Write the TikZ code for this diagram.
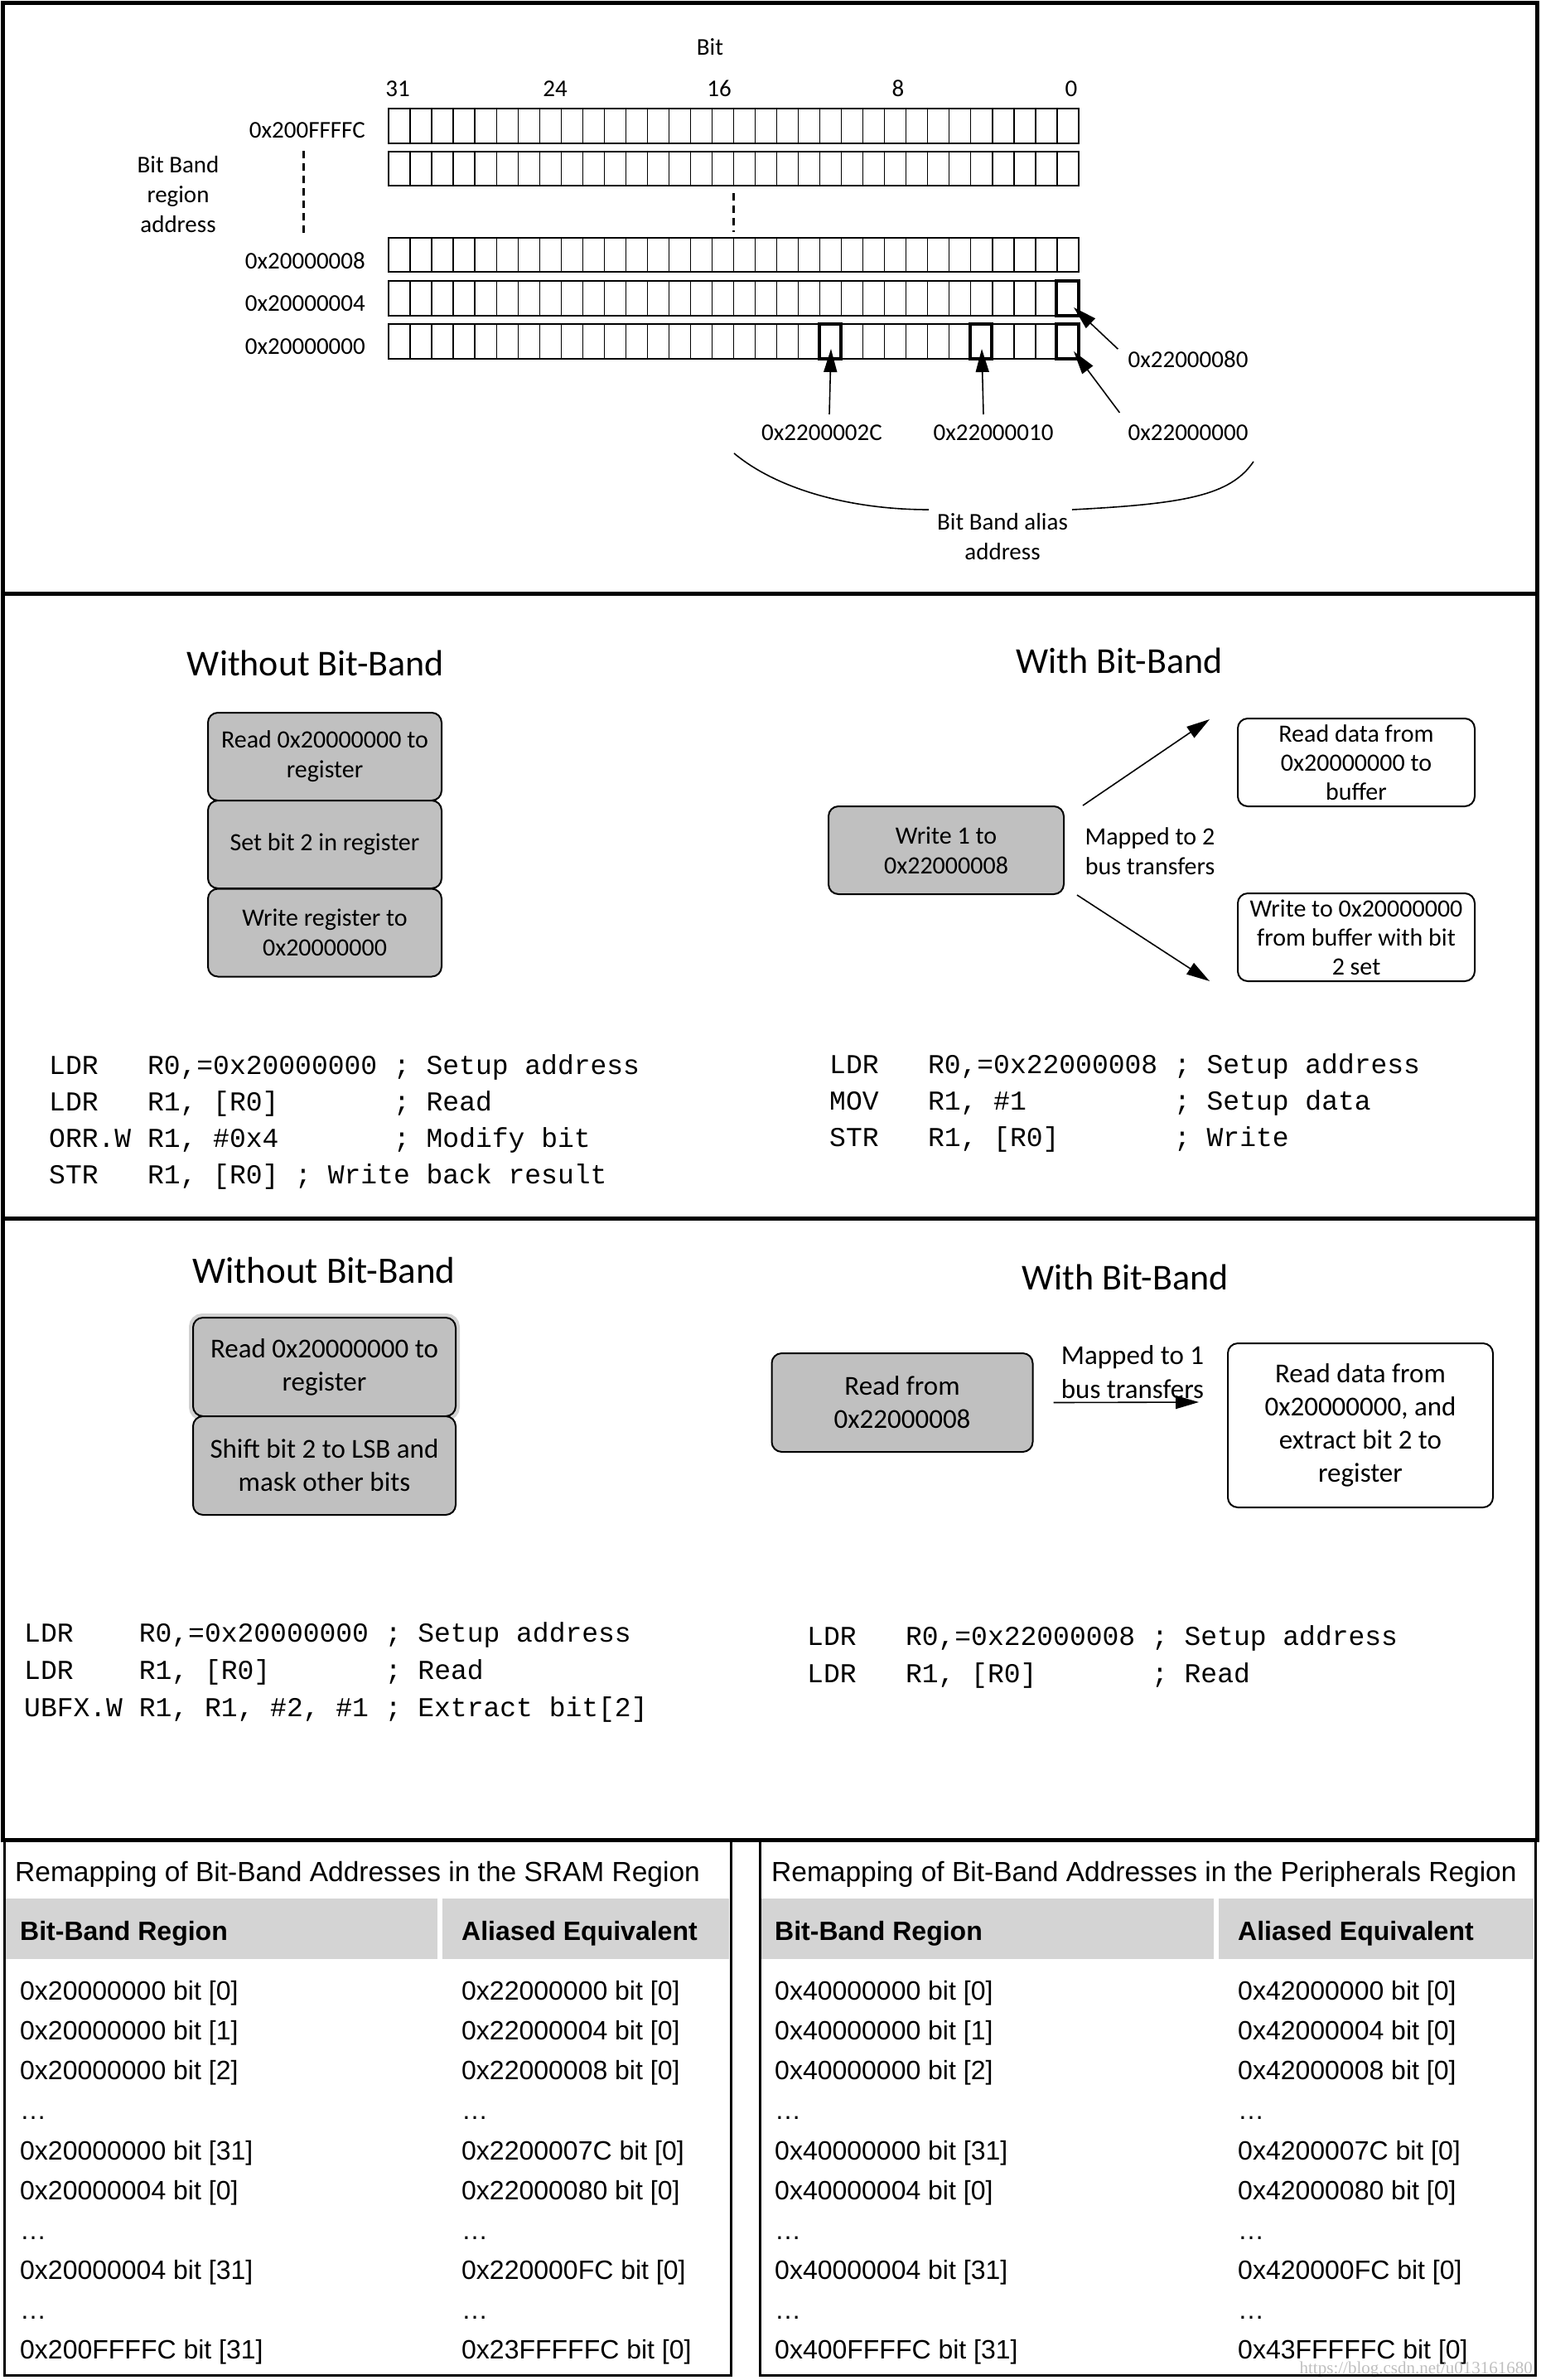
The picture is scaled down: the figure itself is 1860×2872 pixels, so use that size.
\documentclass[tikz,border=0pt]{standalone}
\usepackage{fontspec}
\setmainfont{Carlito}
\newfontfamily\codefont{Liberation Mono}
\newfontfamily\tabfont{Liberation Sans}
\newfontfamily\wmfont{Liberation Serif}
\usetikzlibrary{arrows.meta}
\definecolor{boxgray}{RGB}{192,192,192}
\definecolor{headgray}{RGB}{212,212,212}
\begin{document}
\begin{tikzpicture}[x=1pt,y=-1pt,
  lbl/.style={font=\fontsize{29}{36}\selectfont, inner sep=0pt, align=center},
  ttl/.style={font=\fontsize{44}{50}\selectfont, inner sep=0pt},
  ttlb/.style={font=\fontsize{45}{50}\selectfont, inner sep=0pt},
  gbox/.style={draw, line width=2pt, rounded corners=12pt, fill=boxgray, align=center, inner sep=0pt},
  wbox/.style={draw, line width=2pt, rounded corners=12pt, fill=white, align=center, inner sep=0pt},
  bt2/.style={font=\fontsize{30}{36}\selectfont},
  bt3/.style={font=\fontsize{33}{40}\selectfont},
  code/.style={font=\codefont\fontsize{33}{44}\selectfont, inner sep=0pt, anchor=base west},
  tab/.style={font=\tabfont\fontsize{32}{40}\selectfont, inner sep=0pt, anchor=base west},
  tabt/.style={font=\tabfont\fontsize{33.5}{40}\selectfont, inner sep=0pt, anchor=base west},
  tabh/.style={font=\tabfont\bfseries\fontsize{32}{40}\selectfont, inner sep=0pt, anchor=base west},
  arr/.style={line width=1.6pt, -{Triangle[length=28pt,width=16pt]}},
  frame/.style={line width=5pt},
  reg/.style={line width=2.5pt},
  cell/.style={line width=1.3pt},
  hl/.style={line width=4.5pt},
]
\useasboundingbox (0,0) rectangle (1860,2872);

% ================= Panel 1 =================
\node[lbl] (bit) at (857,57) {Bit};
\foreach \n/\x in {31/480,24/670,16/868,8/1084,0/1293}
  \node[lbl, anchor=base] (b\n) at (\x,116) {\n};
\foreach \t/\b in {131/173,183/224,287/328,339/381,391/433}{
  \draw[reg] (469,\t) rectangle (1302,\b);
  \foreach \i in {1,...,31}
    \draw[cell] ({469+\i*26.03},\t) -- ({469+\i*26.03},\b);
}
\node[lbl, anchor=base east] (a1) at (441,166) {0x200FFFFC};
\node[lbl, anchor=base east] (a2) at (441,324) {0x20000008};
\node[lbl, anchor=base east] (a3) at (441,375) {0x20000004};
\node[lbl, anchor=base east] (a4) at (441,427) {0x20000000};
\node[lbl] (bbr) at (215,235) {Bit Band\\region\\address};
\draw[line width=3pt, dash pattern=on 9pt off 6pt] (366,182) -- (366,281);
\draw[line width=3pt, dash pattern=on 9pt off 6pt] (885,233) -- (885,280);
% highlighted bits
\draw[hl] (1275,339) rectangle (1302,381);
\draw[hl] (1275,391) rectangle (1302,433);
\draw[hl] (1171,391) rectangle (1197,433);
\draw[hl] (989,391) rectangle (1015,433);
\coordinate (t80) at (1296,371);
\coordinate (t00) at (1296,424);
\coordinate (t10) at (1185,421);
\coordinate (t2c) at (1003,421);
\node[lbl, anchor=base] (l80) at (1434,443) {0x22000080};
\node[lbl, anchor=base] (l2c) at (992,531) {0x2200002C};
\node[lbl, anchor=base] (l10) at (1199,531) {0x22000010};
\node[lbl, anchor=base] (l00) at (1434,531) {0x22000000};
\draw[arr] ([xshift=9pt,yshift=12pt]l2c.north) -- (t2c);
\draw[arr] ([xshift=-12pt,yshift=12pt]l10.north) -- (t10);
\draw[arr] ([xshift=-10pt,yshift=14pt]l00.north west) -- (t00);
\draw[arr] ([xshift=-12pt,yshift=12pt]l80.west) -- (t80);
\node[lbl] (alias) at (1210,648) {Bit Band alias\\address};
\coordinate (bl0) at (886,547);
\coordinate (bl1) at (1121,615);
\coordinate (br0) at (1294,615);
\coordinate (br1) at (1513,557);
\draw[line width=1.6pt] (bl0) .. controls (940,592) and (1030,615) .. (bl1);
\draw[line width=1.6pt] (br0) .. controls (1430,608) and (1485,598) .. (br1);

% ================= Panel 2 =================
\node[ttl] (t2l) at (381,800) {Without Bit-Band};
\node[ttl] (t2r) at (1351,797) {With Bit-Band};
\node[gbox, bt2, minimum width=282pt, minimum height=106pt] (s1) at (392,913) {Read 0x20000000 to\\register};
\node[gbox, bt2, minimum width=282pt, minimum height=106pt] (s2) at (392,1019) {Set bit 2 in register};
\node[gbox, bt2, minimum width=282pt, minimum height=106pt] (s3) at (392,1125.5) {Write register to\\0x20000000};
\node[gbox, bt2, minimum width=284pt, minimum height=106pt] (w1) at (1142,1026) {Write 1 to\\0x22000008};
\node[lbl, font=\fontsize{30}{36}\selectfont] (map2) at (1388,1027) {Mapped to 2\\bus transfers};
\node[wbox, font=\fontsize{30}{35}\selectfont, minimum width=286pt, minimum height=106pt] (rd) at (1637,920) {Read data from\\0x20000000 to\\buffer};
\node[wbox, font=\fontsize{30}{35}\selectfont, minimum width=286pt, minimum height=106pt] (wr) at (1637,1131) {Write to 0x20000000\\from buffer with bit\\2 set};
\coordinate (e1) at (1460,868);
\coordinate (e2) at (1460,1184);
\draw[arr] ([xshift=22pt]w1.north east) -- (e1);
\draw[arr] ([xshift=15pt]w1.south east) -- (e2);
\node[code] (c21) at (59,1296) {LDR~~~R0,=0x20000000~;~Setup~address};
\node[code] (c22) at (59,1340) {LDR~~~R1,~[R0]~~~~~~~;~Read};
\node[code] (c23) at (59,1384) {ORR.W~R1,~\#0x4~~~~~~~;~Modify~bit};
\node[code] (c24) at (59,1428) {STR~~~R1,~[R0]~;~Write~back~result};
\node[code] (d21) at (1001,1295) {LDR~~~R0,=0x22000008~;~Setup~address};
\node[code] (d22) at (1001,1339) {MOV~~~R1,~\#1~~~~~~~~~;~Setup~data};
\node[code] (d23) at (1001,1383) {STR~~~R1,~[R0]~~~~~~~;~Write};

% ================= Panel 3 =================
\node[ttlb] (t3l) at (391,1533) {Without Bit-Band};
\node[ttl] (t3r) at (1358,1541) {With Bit-Band};
\draw[gray!35, line width=6pt, rounded corners=13pt] (231,1588) rectangle (552,1711);
\node[gbox, bt3, minimum width=317pt, minimum height=119pt] (u1) at (391.5,1649.5) {Read 0x20000000 to\\register};
\node[gbox, bt3, minimum width=317pt, minimum height=119pt] (u2) at (391.5,1768.5) {Shift bit 2 to LSB and\\mask other bits};
\node[gbox, bt3, minimum width=315pt, minimum height=119pt] (rf) at (1089,1692.5) {Read from\\0x22000008};
\node[lbl, font=\fontsize{33}{41}\selectfont] (map1) at (1367,1656) {Mapped to 1\\bus transfers};
\node[wbox, bt3, minimum width=320pt, minimum height=198pt] (rdx) at (1642,1720) {Read data from\\0x20000000, and\\extract bit 2 to\\register};
\coordinate (e3) at (1447,1692);
\draw[arr] ([xshift=24pt]rf.east) -- (e3);
\node[code] (c31) at (29,1981) {LDR~~~~R0,=0x20000000~;~Setup~address};
\node[code] (c32) at (29,2026) {LDR~~~~R1,~[R0]~~~~~~~;~Read};
\node[code] (c33) at (29,2071) {UBFX.W~R1,~R1,~\#2,~\#1~;~Extract~bit[2]};
\node[code] (d31) at (974,1985) {LDR~~~R0,=0x22000008~;~Setup~address};
\node[code] (d32) at (974,2030) {LDR~~~R1,~[R0]~~~~~~~;~Read};

% ================= Tables =================
\fill[headgray] (7,2291) rectangle (528,2364);
\fill[headgray] (534,2291) rectangle (880,2364);
\fill[headgray] (919,2291) rectangle (1465,2364);
\fill[headgray] (1471,2291) rectangle (1851,2364);
\node[tabt] (ttl1) at (18,2270) {Remapping of Bit-Band Addresses in the SRAM Region};
\node[tabt] (ttl2) at (931,2270) {Remapping of Bit-Band Addresses in the Peripherals Region};
\node[tabh] (h11) at (24,2341) {Bit-Band Region};
\node[tabh] (h12) at (557,2341) {Aliased Equivalent};
\node[tabh] (h21) at (935,2341) {Bit-Band Region};
\node[tabh] (h22) at (1494,2341) {Aliased Equivalent};
\foreach \y/\p/\q [count=\k] in {
  2413/0x20000000 bit [0]/0x22000000 bit [0],
  2461/0x20000000 bit [1]/0x22000004 bit [0],
  2509/0x20000000 bit [2]/0x22000008 bit [0],
  2557/…/…,
  2606/0x20000000 bit [31]/0x2200007C bit [0],
  2654/0x20000004 bit [0]/0x22000080 bit [0],
  2702/…/…,
  2750/0x20000004 bit [31]/0x220000FC bit [0],
  2798/…/…,
  2846/0x200FFFFC bit [31]/0x23FFFFFC bit [0]}{
  \node[tab] (sa\k) at (24,\y) {\p};
  \node[tab] (sb\k) at (557,\y) {\q};
}
\foreach \y/\p/\q [count=\k] in {
  2413/0x40000000 bit [0]/0x42000000 bit [0],
  2461/0x40000000 bit [1]/0x42000004 bit [0],
  2509/0x40000000 bit [2]/0x42000008 bit [0],
  2557/…/…,
  2606/0x40000000 bit [31]/0x4200007C bit [0],
  2654/0x40000004 bit [0]/0x42000080 bit [0],
  2702/…/…,
  2750/0x40000004 bit [31]/0x420000FC bit [0],
  2798/…/…,
  2846/0x400FFFFC bit [31]/0x43FFFFFC bit [0]}{
  \node[tab] (pa\k) at (935,\y) {\p};
  \node[tab] (pb\k) at (1494,\y) {\q};
}
\node[font=\wmfont\fontsize{21}{21}\selectfont, text=gray!50, anchor=base east, inner sep=0pt] (wm) at (1850,2864) {https://blog.csdn.net/u013161680};
\draw[line width=3pt] (5,2220) rectangle (882,2866);
\draw[line width=3pt] (917,2220) rectangle (1853,2866);

% ================= Frames =================
\draw[frame] (3,3) rectangle (1855,2220);
\draw[frame] (3,716) -- (1855,716);
\draw[frame] (3,1470) -- (1855,1470);
\end{tikzpicture}
\end{document}
